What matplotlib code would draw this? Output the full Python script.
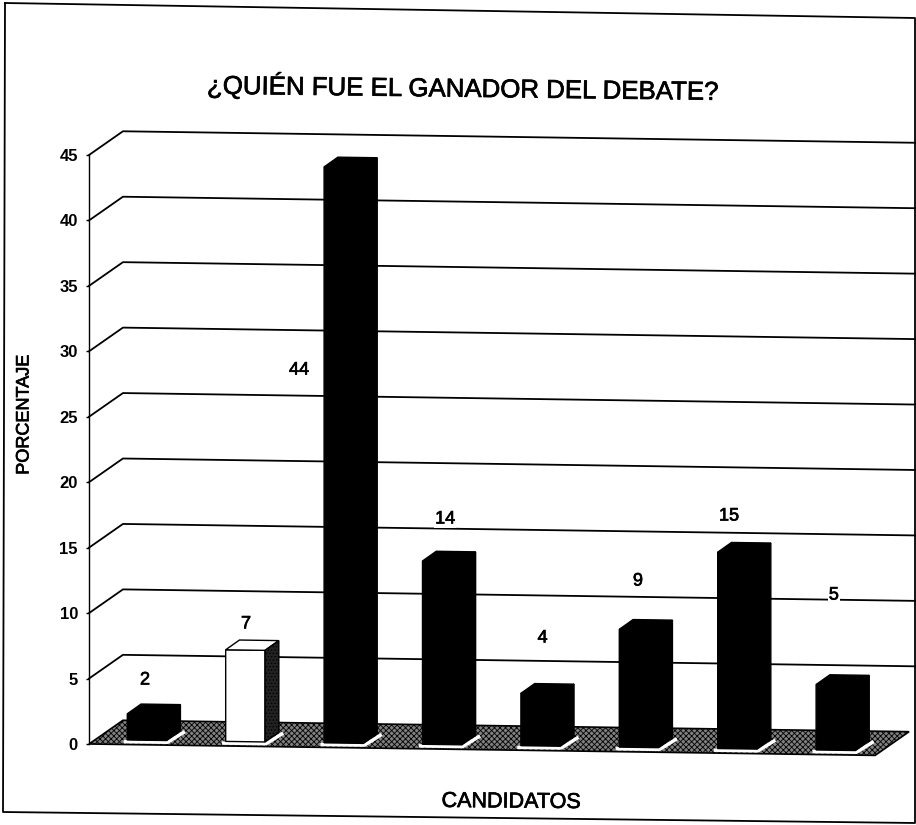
import numpy as np
import matplotlib
matplotlib.use("Agg")
import matplotlib.pyplot as plt
import matplotlib.patheffects as pe
from matplotlib.lines import Line2D
from matplotlib.transforms import Affine2D

plt.rcParams['font.family'] = ['Liberation Sans', 'DejaVu Sans']
plt.rcParams['hatch.linewidth'] = 0.6

# data
values = [2, 7, 44, 14, 4, 9, 15, 5]
y_ticks = [0, 5, 10, 15, 20, 25, 30, 35, 40, 45]
title = "¿QUIÉN FUE EL GANADOR DEL DEBATE?"
x_title = "CANDIDATOS"
y_title = "PORCENTAJE"

# where the value labels sit, in axis units
label_x = [-0.02, 1.006, 1.545, 3.03, 4.02, 4.99, 5.915, 6.98]
label_y = [4.89, 9.17, 28.57, 17.19, 8.10, 12.45, 17.42, 11.38]

W, H = 916, 825

# fake 3d settings, in axis units
bar_w = 0.40
bar_depth_x = 0.14
bar_depth_y = 0.76
base = 0.35
wall_x = 0.345
wall_y = 1.85
x_left = -0.589
x_right = 7.805
floor_right = 7.40
tilt = 0.109  # the scan is a bit rotated, lines fall to the right

# scanned text looks heavier than the plain font
heavy = [pe.withStroke(linewidth=0.5, foreground='black')]


def fx(px):
    return px / W


def fy(py):
    return 1 - py / H


fig = plt.figure(figsize=(W / 100, H / 100), dpi=100)
ax = fig.add_axes([fx(89), fy(744), fx(915) - fx(89), fy(155) - fy(744)])
ax.patch.set_visible(False)
ax.set_xlim(x_left, x_right)
ax.set_ylim(0, 45)

# shear everything that belongs to the chart
tr = Affine2D.from_values(1, -tilt, 0, 1, 0, tilt * x_left) + ax.transData

# grid on the back wall
for v in y_ticks[1:]:
    ax.plot([x_left, x_left + wall_x, x_right], [v, v + wall_y, v + wall_y],
            color='black', lw=1.3, transform=tr, clip_on=False, zorder=1)

# floor
floor_xs = [x_left, x_left + wall_x, floor_right + wall_x, floor_right]
floor_ys = [0, wall_y, wall_y, 0]
ax.fill(floor_xs, floor_ys, facecolor='#808080', edgecolor='black', hatch='xxxxxx',
        lw=1.2, transform=tr, clip_on=False, zorder=2)

# bars
cats = np.arange(len(values))
for i, v in enumerate(values):
    left = cats[i] - bar_w / 2
    right = cats[i] + bar_w / 2
    top = base + v
    face = 'white' if i == 1 else 'black'

    # white rim round the foot of the bar
    ax.plot([left - 0.02, right + 0.01, right + bar_depth_x + 0.03],
            [base - 0.13, base - 0.13, base + bar_depth_y - 0.13],
            color='white', lw=2.5, transform=tr, clip_on=False, zorder=3)

    ax.bar(cats[i], v, width=bar_w, bottom=base, color=face, edgecolor='black', lw=1.0,
           transform=tr, clip_on=False, zorder=4)
    ax.fill([left, left + bar_depth_x, right + bar_depth_x, right],
            [top, top + bar_depth_y, top + bar_depth_y, top],
            facecolor=face, edgecolor='black', lw=1.0, transform=tr, clip_on=False, zorder=4)
    side = ax.fill([right, right + bar_depth_x, right + bar_depth_x, right],
                   [base, base + bar_depth_y, top + bar_depth_y, top],
                   facecolor='#222222' if i == 1 else 'black', edgecolor='black', lw=1.0,
                   transform=tr, clip_on=False, zorder=4)
    if i == 1:
        side[0].set_hatch('.....')

    ax.text(label_x[i], label_y[i], str(v), ha='center', va='center', fontsize=13,
            bbox=dict(facecolor='white', edgecolor='none', pad=0.6), zorder=5,
            path_effects=heavy)

# axis
for s in ['top', 'right', 'bottom']:
    ax.spines[s].set_visible(False)
ax.spines['left'].set_linewidth(1.0)
ax.set_xticks([])
ax.set_yticks(y_ticks)
ax.tick_params(axis='y', length=2, width=1, pad=6, labelsize=12)
for lab in ax.get_yticklabels():
    lab.set_fontweight('bold')

# texts
fig.text(fx(463), fy(88), title, ha='center', va='center', fontsize=18.6, rotation=-0.7,
         rotation_mode='anchor', path_effects=heavy)
fig.text(fx(511), fy(802), x_title, ha='center', va='center', fontsize=15.5, rotation=-0.5,
         rotation_mode='anchor', path_effects=heavy)
fig.text(fx(24), fy(415), y_title, ha='center', va='center', fontsize=13, rotation=90,
         path_effects=heavy)

# frame round the whole chart
frame_x = [5, 915, 915, 3, 5]
frame_y = [3, 18, 823, 812, 3]
fig.add_artist(Line2D([fx(p) for p in frame_x], [fy(p) for p in frame_y], color='black', lw=1.3))

fig.savefig("out.png", dpi=100)
